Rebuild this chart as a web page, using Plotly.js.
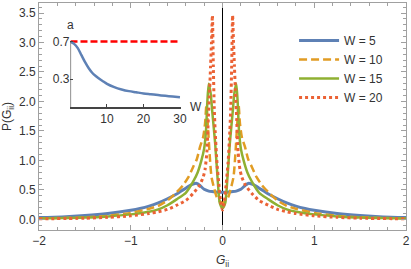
<!DOCTYPE html>
<html>
<head>
<meta charset="utf-8">
<script src="https://cdn.plot.ly/plotly-3.0.1.min.js"></script>
<style>html,body{margin:0;padding:0;background:#fff;}#chart{width:411px;height:269px;}</style>
</head>
<body>
<div id="chart"></div>
<script>
// ---- main panel data: P(G_ii) for several disorder strengths W ----
const seriesNames = ['W = 5', 'W = 10', 'W = 15', 'W = 20'];

const gW5 = [-2, -1.75, -1.5, -1.25, -1, -0.9, -0.8, -0.7, -0.6, -0.5, -0.45, -0.4, -0.36, -0.32, -0.28, -0.25, -0.2, -0.15, -0.1, -0.05, 0,
             0.05, 0.1, 0.15, 0.2, 0.25, 0.28, 0.32, 0.36, 0.4, 0.45, 0.5, 0.6, 0.7, 0.8, 0.9, 1, 1.25, 1.5, 1.75, 2];
const pW5 = [0.03, 0.042, 0.065, 0.10, 0.155, 0.185, 0.225, 0.28, 0.35, 0.43, 0.48, 0.53, 0.57, 0.60, 0.61, 0.58, 0.51, 0.48, 0.47, 0.46, 0.46,
             0.46, 0.47, 0.48, 0.51, 0.58, 0.61, 0.60, 0.57, 0.53, 0.48, 0.43, 0.35, 0.28, 0.225, 0.185, 0.155, 0.10, 0.065, 0.042, 0.03];

const gW10 = [-2, -1.5, -1.25, -1, -0.8, -0.7, -0.6, -0.5, -0.43, -0.37, -0.32, -0.28, -0.245, -0.21, -0.19, -0.175, -0.16, -0.14, -0.12, -0.09, -0.063, -0.03, 0,
              0.03, 0.063, 0.09, 0.12, 0.14, 0.16, 0.175, 0.19, 0.21, 0.245, 0.28, 0.32, 0.37, 0.43, 0.5, 0.6, 0.7, 0.8, 1, 1.25, 1.5, 2];
const pW10 = [0.015, 0.035, 0.06, 0.11, 0.18, 0.23, 0.32, 0.46, 0.58, 0.72, 0.89, 1.02, 1.23, 1.40, 1.63, 1.95, 1.60, 1.10, 0.72, 0.52, 0.38, 0.31, 0.28,
              0.31, 0.38, 0.52, 0.72, 1.10, 1.60, 1.95, 1.63, 1.40, 1.23, 1.02, 0.89, 0.72, 0.58, 0.46, 0.32, 0.23, 0.18, 0.11, 0.06, 0.035, 0.015];

const gW15 = [-2, -1.5, -1.25, -1, -0.8, -0.7, -0.6, -0.5, -0.4, -0.32, -0.27, -0.23, -0.2, -0.18, -0.165, -0.15, -0.13, -0.11, -0.08, -0.05, -0.03, 0,
              0.03, 0.05, 0.08, 0.11, 0.13, 0.15, 0.165, 0.18, 0.2, 0.23, 0.27, 0.32, 0.4, 0.5, 0.6, 0.7, 0.8, 1, 1.25, 1.5, 2];
const pW15 = [0.015, 0.03, 0.05, 0.085, 0.13, 0.17, 0.24, 0.34, 0.45, 0.64, 0.80, 1.00, 1.20, 1.50, 2.00, 2.30, 2.15, 1.80, 1.29, 0.62, 0.28, 0.19,
              0.28, 0.62, 1.29, 1.80, 2.15, 2.30, 2.00, 1.50, 1.20, 1.00, 0.80, 0.64, 0.45, 0.34, 0.24, 0.17, 0.13, 0.085, 0.05, 0.03, 0.015];

const gW20 = [-2, -1.5, -1.25, -1, -0.8, -0.7, -0.6, -0.5, -0.4, -0.32, -0.25, -0.21, -0.19, -0.17, -0.155, -0.14, -0.13, -0.12, -0.11, -0.1, -0.09, -0.08, -0.06, -0.04, -0.02, 0,
              0.02, 0.04, 0.06, 0.08, 0.09, 0.1, 0.11, 0.12, 0.13, 0.14, 0.155, 0.17, 0.19, 0.21, 0.25, 0.32, 0.4, 0.5, 0.6, 0.7, 0.8, 1, 1.25, 1.5, 2];
const pW20 = [0.01, 0.02, 0.035, 0.06, 0.10, 0.13, 0.17, 0.24, 0.32, 0.44, 0.58, 0.72, 0.85, 1.15, 1.70, 2.20, 2.60, 3.00, 3.46, 2.60, 1.90, 1.50, 0.95, 0.60, 0.30, 0.16,
              0.30, 0.60, 0.95, 1.50, 1.90, 2.60, 3.46, 3.00, 2.60, 2.20, 1.70, 1.15, 0.85, 0.72, 0.58, 0.44, 0.32, 0.24, 0.17, 0.13, 0.10, 0.06, 0.035, 0.02, 0.01];

// ---- inset data: a versus W ----
const insetW = [0, 1, 2, 3, 4, 5, 6, 7, 8, 9, 10, 12, 14, 16, 18, 20, 22, 24, 26, 28, 30];
const insetA = [0.70, 0.675, 0.63, 0.555, 0.48, 0.415, 0.365, 0.33, 0.30, 0.275, 0.25, 0.215, 0.19, 0.172, 0.16, 0.148, 0.139, 0.13, 0.122, 0.115, 0.108];
const refW = [0, 30];
const refA = [0.7, 0.7];

const colors = ['#5E81B5', '#E19C24', '#8FB032', '#EB6235'];
const dashes = ['solid', '8px,4px', 'solid', '3px,3px'];
const widths = [3, 2.5, 2.5, 3];
const gs = [gW5, gW10, gW15, gW20];
const ps = [pW5, pW10, pW15, pW20];

const traces = seriesNames.map((n, i) => ({
  x: gs[i], y: ps[i], name: n, type: 'scatter', mode: 'lines',
  line: {color: colors[i], width: widths[i], dash: dashes[i], shape: 'spline', smoothing: 0.6},
  xaxis: 'x', yaxis: 'y'
}));

traces.push({x: refW, y: refA, type: 'scatter', mode: 'lines', showlegend: false,
  line: {color: '#FF0000', width: 2.5, dash: '7px,3px'}, xaxis: 'x2', yaxis: 'y2'});
traces.push({x: insetW, y: insetA, type: 'scatter', mode: 'lines', showlegend: false,
  line: {color: '#5E81B5', width: 2.5, shape: 'spline'}, xaxis: 'x2', yaxis: 'y2'});

const frameCol = '#A0A0A0';
const layout = {
  width: 411, height: 269,
  margin: {l: 39, r: 5, t: 3, b: 39},
  paper_bgcolor: '#fff', plot_bgcolor: '#fff',
  font: {family: 'Liberation Sans, Arial, sans-serif', size: 12, color: '#333'},
  xaxis: {
    range: [-2, 2], dtick: 1, tick0: 0, ticks: 'inside', ticklen: 5, tickcolor: frameCol,
    showline: true, linecolor: frameCol, linewidth: 1, mirror: 'ticks', showgrid: false,
    zeroline: true, zerolinecolor: '#000', zerolinewidth: 1,
    minor: {dtick: 0.2, ticks: 'inside', ticklen: 3, tickcolor: frameCol, showgrid: false},
    title: {text: '<i>G</i><sub>ii</sub>', standoff: 9, font: {size: 12}},
    automargin: false, anchor: 'y', domain: [0, 1]
  },
  yaxis: {
    range: [-0.18, 3.67], dtick: 0.5, tick0: 0, tickformat: '.1f', ticks: 'inside', ticklen: 5, tickcolor: frameCol,
    showline: true, linecolor: frameCol, linewidth: 1, mirror: 'ticks', showgrid: false, zeroline: false,
    minor: {dtick: 0.1, ticks: 'inside', ticklen: 3, tickcolor: frameCol, showgrid: false},
    title: {text: 'P(G<sub>ii</sub>)', standoff: 4, font: {size: 12}},
    automargin: false, anchor: 'x', domain: [0, 1]
  },
  xaxis2: {
    domain: [0.0858, 0.3861], anchor: 'y2', range: [0, 30.2], tickvals: [10, 20, 30],
    ticks: 'inside', ticklen: 3, tickcolor: '#444', showline: true, linecolor: '#444', linewidth: 1.2,
    showgrid: false, zeroline: false, automargin: false
  },
  yaxis2: {
    domain: [0.5405, 0.8511], anchor: 'x2', range: [0, 0.75], tickvals: [0.3, 0.7], tickformat: '.1f',
    ticks: 'inside', ticklen: 3, tickcolor: '#444', showline: false, showgrid: false, zeroline: false, automargin: false
  },
  shapes: [
    {type: 'line', xref: 'x2', yref: 'y2', x0: 0, x1: 0, y0: 0, y1: 0.7, line: {color: '#444', width: 1.2}, layer: 'above'}
  ],
  annotations: [
    {text: 'a', xref: 'paper', yref: 'paper', x: 0.0845, y: 0.903, xanchor: 'center', yanchor: 'middle', showarrow: false, font: {size: 12}},
    {text: 'W', xref: 'paper', yref: 'paper', x: 0.428, y: 0.5405, xanchor: 'center', yanchor: 'middle', showarrow: false, font: {size: 12}}
  ],
  legend: {
    x: 0.695, y: 0.709, xanchor: 'left', yanchor: 'middle', bgcolor: 'rgba(0,0,0,0)',
    font: {size: 12}, itemwidth: 40, tracegroupgap: 0
  },
  showlegend: true
};

Plotly.newPlot('chart', traces, layout, {displayModeBar: false, staticPlot: true});
</script>
</body>
</html>
